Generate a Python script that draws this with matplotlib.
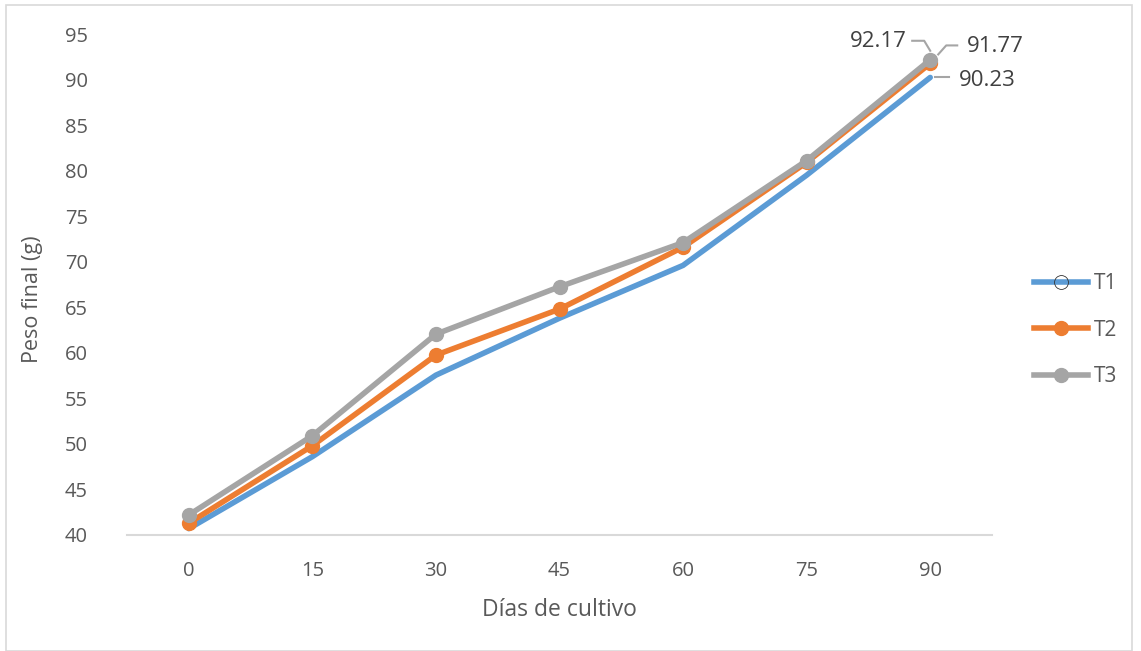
import matplotlib
matplotlib.use("Agg")
import matplotlib.pyplot as plt
from matplotlib.lines import Line2D
from matplotlib.patches import Rectangle

plt.rcParams['font.family'] = ['Open Sans', 'DejaVu Sans']

dias = [0, 15, 30, 45, 60, 75, 90]
t1 = [40.7, 48.6, 57.55, 63.8, 69.6, 79.5, 90.23]
t2 = [41.3, 49.8, 59.75, 64.8, 71.6, 80.9, 91.77]
t3 = [42.2, 50.9, 62.05, 67.25, 72.1, 81.1, 92.17]
series_names = ["T1", "T2", "T3"]
colors = ["#5B9BD5", "#ED7D31", "#A5A5A5"]
yticks = [40, 45, 50, 55, 60, 65, 70, 75, 80, 85, 90, 95]

W, H = 1141, 651
fig = plt.figure(figsize=(W / 100, H / 100), dpi=100)
fig.patches.append(Rectangle((6 / W, 0), (1132 - 6) / W, (H - 5) / H,
                             transform=fig.transFigure, fill=False,
                             edgecolor="#D9D9D9", lw=1.2))

ax = fig.add_axes([127 / W, 1 - 535 / H, (992 - 127) / W, (535 - 34) / H])
x = list(range(len(dias)))
ax.plot(x, t1, color=colors[0], lw=4, solid_joinstyle='round', solid_capstyle='round', zorder=3)
ax.plot(x, t2, color=colors[1], lw=4, marker='o', ms=10, solid_joinstyle='round', zorder=4)
ax.plot(x, t3, color=colors[2], lw=4, marker='o', ms=10, solid_joinstyle='round', zorder=5)

ax.set_xlim(-0.5, len(dias) - 0.5)
ax.set_ylim(40, 95)
ax.set_yticks(yticks)
ax.set_xticks(x)
ax.set_xticklabels([str(d) for d in dias])
for s in ['top', 'right', 'left']:
    ax.spines[s].set_visible(False)
ax.spines['bottom'].set_color("#D9D9D9")
ax.spines['bottom'].set_linewidth(1.5)
ax.tick_params(axis='both', length=0, labelsize=14.5, labelcolor="#595959")
ax.tick_params(axis='y', pad=28)
ax.tick_params(axis='x', pad=19)
ax.set_xlabel("Días de cultivo", fontsize=16.5, color="#595959", labelpad=12)
ax.set_ylabel("Peso final (g)", fontsize=15.5, color="#595959")
ax.yaxis.set_label_coords((43 - 127) / (992 - 127), (535 - 299) / (535 - 34))

# data labels with leader lines (offsets in pixels)
lc = "#A5A5A5"
xl = x[-1]
tc = "#404040"
ax.annotate(f"{t3[-1]:.2f}", xy=(xl, t3[-1]), xytext=(-80, 18), textcoords='offset pixels',
            fontsize=16, color=tc, va='center', ha='left')
ax.annotate(f"{t2[-1]:.2f}", xy=(xl, t2[-1]), xytext=(37, 17), textcoords='offset pixels',
            fontsize=16, color=tc, va='center', ha='left')
ax.annotate(f"{t1[-1]:.2f}", xy=(xl, t1[-1]), xytext=(29, -3), textcoords='offset pixels',
            fontsize=16, color=tc, va='center', ha='left')

def leader(pts, yv):
    base = ax.transData.transform((xl, yv))
    inv = ax.transData.inverted()
    dat = [inv.transform((base[0] + px, base[1] + py)) for px, py in pts]
    ax.plot([d[0] for d in dat], [d[1] for d in dat], color=lc, lw=1.5, clip_on=False, zorder=6)

leader([(-18, 19), (-6, 19), (0, 9)], t3[-1])
leader([(8, 9), (16, 18), (27, 18)], t2[-1])
leader([(5, 0), (19, 0)], t1[-1])

handles = [
    Line2D([], [], color=colors[0], lw=4, marker='o', ms=10, mfc='none', mec='#333333', mew=0.6),
    Line2D([], [], color=colors[1], lw=4, marker='o', ms=10),
    Line2D([], [], color=colors[2], lw=4, marker='o', ms=10),
]
fig.legend(handles, series_names, loc='center left', bbox_to_anchor=(1015 / W, 1 - 330 / H),
           frameon=False, fontsize=15, labelcolor="#595959", handlelength=2.6,
           handletextpad=0.3, labelspacing=1.22)

fig.savefig("out.png", dpi=100)
